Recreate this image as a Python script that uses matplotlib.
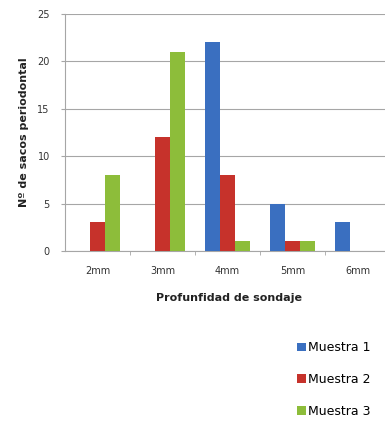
import numpy as np
import matplotlib.pyplot as plt

categories = ['2mm', '3mm', '4mm', '5mm', '6mm']
muestra1 = [0, 0, 22, 5, 3]
muestra2 = [3, 12, 8, 1, 0]
muestra3 = [8, 21, 1, 1, 0]
series_names = ['Muestra 1', 'Muestra 2', 'Muestra 3']
colors = ['#3a6fc0', '#c6322b', '#8dbd3a']

fig = plt.figure(figsize=(3.85, 4.21), dpi=100)
ax = fig.add_axes([0.169, 0.404, 0.844, 0.563])

x = np.arange(len(categories))
w = 0.235
for i, (vals, name, c) in enumerate(zip([muestra1, muestra2, muestra3], series_names, colors)):
    ax.bar(x + (i - 1) * w, vals, width=w, color=c, label=name, zorder=3)

ax.set_xlim(-0.5, 4.5)
ax.set_ylim(0, 25)
ax.set_yticks(range(0, 26, 5))
ax.yaxis.grid(True, color='#a6a6a6', linewidth=0.8, zorder=0)
ax.set_xticks(x)
ax.set_xticklabels(categories, fontsize=7, color='#333333')
ax.set_xticks(np.arange(0.5, 4.5, 1), minor=True)
ax.tick_params(axis='x', which='major', length=0, pad=11)
ax.tick_params(axis='x', which='minor', length=3, color='#a6a6a6')
ax.tick_params(axis='y', labelsize=7, labelcolor='#333333', length=3, color='#a6a6a6', pad=8)
for s in ['top', 'right']:
    ax.spines[s].set_visible(False)
ax.spines['left'].set_color('#a6a6a6')
ax.spines['bottom'].set_color('#a6a6a6')

ax.set_ylabel('Nº de sacos periodontal', fontsize=8, fontweight='bold', color='#222222', labelpad=6)
fig.text(0.595, 0.292, 'Profunfidad de sondaje', fontsize=8, fontweight='bold',
         color='#222222', ha='center', va='center')

handles, labels = ax.get_legend_handles_labels()
fig.legend(handles, labels, loc='upper left', bbox_to_anchor=(0.772, 0.189),
           frameon=False, fontsize=9, handlelength=0.7, handleheight=0.7,
           handletextpad=0.2, labelspacing=1.5, borderaxespad=0, borderpad=0)

fig.savefig('out.png', dpi=100)
